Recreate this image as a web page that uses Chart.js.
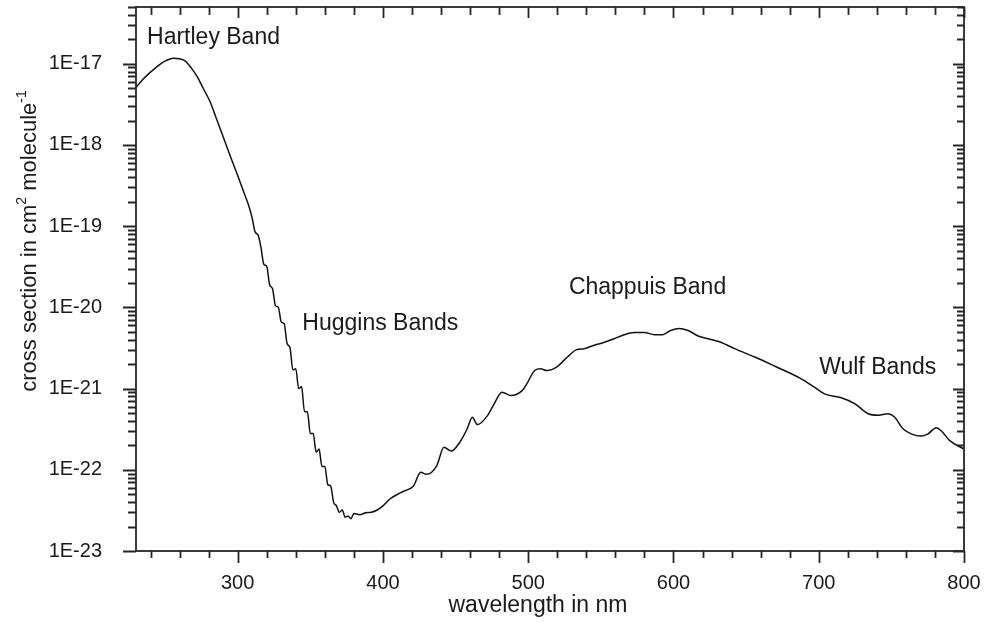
<!DOCTYPE html>
<html>
<head>
<meta charset="utf-8">
<script src="https://cdn.jsdelivr.net/npm/chart.js@4.4.1/dist/chart.umd.min.js"></script>
<style>
  html, body { margin: 0; padding: 0; background: #fff; }
</style>
</head>
<body>
<canvas id="ozoneChart" width="986" height="623"></canvas>
<script>
// Ozone absorption cross section
const wavelengths = [
  230, 235, 240, 247, 251, 255.5, 260, 264, 268, 272, 276, 281, 285, 290, 295, 300, 305, 308,
  310, 312, 314, 316, 318, 320, 322, 324, 326, 328, 330, 332, 334, 336, 338, 340, 342, 344,
  346, 348, 350, 352, 354, 356, 358, 360, 362, 364, 366, 368, 370, 372, 374, 376, 378, 380,
  384, 388, 392, 396, 400, 405, 412, 416, 421, 426, 430, 437, 442, 447, 453, 458, 461.5, 465,
  472, 476, 482, 488, 496, 499, 504.5, 508.5, 513, 520, 527, 533, 538.5, 545, 552, 559, 566,
  573, 580, 587, 592.5, 598, 604, 610, 617, 624, 633, 642, 656, 669.5, 688, 697, 704, 715.5,
  725, 734, 741, 747.5, 752, 758, 764, 770.5, 775, 781, 784.5, 790, 800
];
const crossSection = [
  5.1e-18, 6.5e-18, 7.9e-18, 1.0e-17, 1.1e-17, 1.17e-17, 1.15e-17, 1.08e-17, 8.9e-18, 7.0e-18,
  5.1e-18, 3.4e-18, 2.2e-18, 1.26e-18, 7.2e-19, 4.2e-19, 2.4e-19, 1.7e-19,
  1.25e-19, 8.5e-20, 7.8e-20, 5.5e-20, 3.4e-20, 3.2e-20, 1.9e-20, 1.7e-20, 1.05e-20, 1.0e-20,
  6.6e-21, 6.3e-21, 3.6e-21, 3.2e-21, 1.7e-21, 1.75e-21, 1.0e-21, 1.05e-21,
  5.2e-22, 5.2e-22, 2.8e-22, 2.8e-22, 1.65e-22, 1.8e-22, 1.1e-22, 1.1e-22, 6.6e-23, 6.3e-23,
  4.0e-23, 3.6e-23, 3.0e-23, 3.2e-23, 2.6e-23, 2.7e-23, 2.5e-23, 2.9e-23,
  2.8e-23, 2.95e-23, 3.0e-23, 3.2e-23, 3.6e-23, 4.4e-23, 5.2e-23, 5.6e-23, 6.3e-23, 9.3e-23,
  8.8e-23, 1.12e-22, 1.9e-22, 1.7e-22, 2.2e-22, 3.2e-22, 4.45e-22, 3.6e-22,
  4.65e-22, 6.2e-22, 9.0e-22, 8.2e-22, 9.5e-22, 1.14e-21, 1.67e-21, 1.75e-21, 1.67e-21, 1.87e-21,
  2.45e-21, 3.0e-21, 3.1e-21, 3.4e-21, 3.7e-21, 4.1e-21, 4.6e-21,
  4.9e-21, 4.9e-21, 4.6e-21, 4.6e-21, 5.2e-21, 5.5e-21, 5.2e-21, 4.45e-21, 4.1e-21, 3.7e-21,
  3.1e-21, 2.45e-21, 1.9e-21, 1.32e-21, 1.04e-21, 8.6e-22, 7.7e-22,
  6.5e-22, 4.9e-22, 4.7e-22, 4.9e-22, 4.5e-22, 3.2e-22, 2.75e-22, 2.6e-22, 2.75e-22, 3.3e-22,
  3.0e-22, 2.3e-22, 1.8e-22
];

const xTicks = [300, 400, 500, 600, 700, 800];
const yTicks = [1e-23, 1e-22, 1e-21, 1e-20, 1e-19, 1e-18, 1e-17];

// band names and where they sit (in data units)
const bandNames = ['Hartley Band', 'Huggins Bands', 'Chappuis Band', 'Wulf Bands'];
const bandWl = [237.6, 344.5, 528, 700.3];
const bandVal = [2.1e-17, 6.3e-21, 1.74e-20, 1.82e-21];

const FONT = '"Liberation Sans", Arial, Helvetica, sans-serif';
const INK = '#1a1a1a';

// frame, ticks, titles and band labels
const framePlugin = {
  id: 'frame',
  afterDraw(chart) {
    const { ctx, chartArea: a, scales: { x, y } } = chart;
    ctx.save();
    ctx.strokeStyle = '#262626';
    ctx.lineWidth = 1.8;
    ctx.strokeRect(a.left, a.top, a.right - a.left, a.bottom - a.top);

    ctx.beginPath();
    for (let v = 240; v <= 800; v += 20) {
      const px = Math.round(x.getPixelForValue(v)) + 0.5;
      const major = v % 100 === 0;
      ctx.moveTo(px, a.bottom); ctx.lineTo(px, a.bottom + (major ? 12 : 7));
      ctx.moveTo(px, a.top); ctx.lineTo(px, a.top + (major ? 11 : 8));
    }
    for (let e = -23; e <= -17; e++) {
      for (let m = 1; m <= 9; m++) {
        const v = m * Math.pow(10, e);
        if (v > y.max * 1.0001) break;
        const py = Math.round(y.getPixelForValue(v)) + 0.5;
        ctx.moveTo(a.left - (m === 1 ? 13 : 8), py); ctx.lineTo(a.left, py);
        ctx.moveTo(a.right - (m === 1 ? 11 : 7), py); ctx.lineTo(a.right, py);
      }
    }
    ctx.stroke();

    ctx.fillStyle = INK;
    ctx.textBaseline = 'middle';
    ctx.textAlign = 'left';
    ctx.font = '23px ' + FONT;
    bandNames.forEach((name, i) => {
      ctx.fillText(name, x.getPixelForValue(bandWl[i]), y.getPixelForValue(bandVal[i]));
    });

    // x title
    ctx.textAlign = 'center';
    ctx.font = '23px ' + FONT;
    ctx.fillText('wavelength in nm', 538, 606);

    // y title with superscripts
    const parts = [
      ['cross section in cm', false], ['2', true], [' molecule', false], ['-1', true]
    ];
    const big = '22px ' + FONT, small = '14px ' + FONT;
    let total = 0;
    parts.forEach(([t, sup]) => { ctx.font = sup ? small : big; total += ctx.measureText(t).width; });
    ctx.translate(30, 241);
    ctx.rotate(-Math.PI / 2);
    ctx.textAlign = 'left';
    let cx = -total / 2;
    parts.forEach(([t, sup]) => {
      ctx.font = sup ? small : big;
      ctx.fillText(t, cx, sup ? -8 : 0);
      cx += ctx.measureText(t).width;
    });
    ctx.restore();
  }
};

new Chart(document.getElementById('ozoneChart').getContext('2d'), {
  type: 'line',
  data: {
    datasets: [{
      data: wavelengths.map((w, i) => ({ x: w, y: crossSection[i] })),
      borderColor: '#111',
      borderWidth: 1.5,
      pointRadius: 0,
      fill: false,
      cubicInterpolationMode: 'monotone'
    }]
  },
  options: {
    responsive: false,
    animation: false,
    layout: { padding: { top: 7, right: 22, left: 0, bottom: 0 } },
    plugins: { legend: { display: false }, tooltip: { enabled: false } },
    scales: {
      x: {
        type: 'linear',
        min: 230,
        max: 800,
        grid: { display: false, drawTicks: false },
        border: { display: false },
        afterBuildTicks: s => { s.ticks = xTicks.map(v => ({ value: v })); },
        afterFit: s => { s.height = 72; s.paddingLeft = 0; s.paddingRight = 0; },
        ticks: {
          autoSkip: false,
          maxRotation: 0,
          padding: 20,
          color: INK,
          font: { family: FONT, size: 20 }
        }
      },
      y: {
        type: 'logarithmic',
        min: 1e-23,
        max: 5e-17,
        grid: { display: false, drawTicks: false },
        border: { display: false },
        afterBuildTicks: s => { s.ticks = yTicks.map(v => ({ value: v })); },
        afterFit: s => { s.width = 136; s.paddingTop = 0; s.paddingBottom = 0; },
        ticks: {
          autoSkip: false,
          padding: 34,
          color: INK,
          font: { family: FONT, size: 20 },
          callback: v => '1E' + Math.round(Math.log10(v))
        }
      }
    }
  },
  plugins: [framePlugin]
});
</script>
</body>
</html>
